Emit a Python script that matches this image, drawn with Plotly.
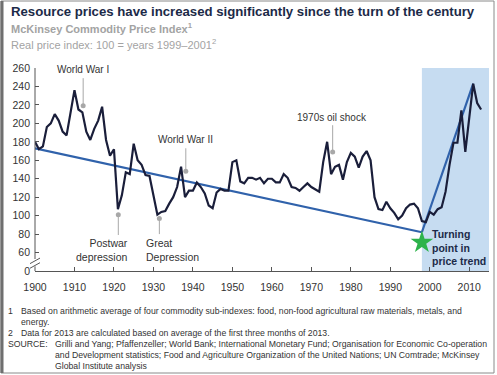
import plotly.graph_objects as go

years = list(range(1900, 2014))
index_values = [
    180, 172, 175, 196, 200, 210, 203, 191, 187, 212,
    236, 215, 212, 191, 182, 194, 203, 218, 182, 165,
    172, 107, 122, 147, 145, 178, 160, 155, 144, 143,
    122, 101, 104, 105, 113, 120, 131, 153, 120, 127,
    127, 136, 131, 124, 111, 108, 125, 129, 127, 127,
    158, 160, 137, 135, 141, 141, 139, 141, 135, 140,
    140, 136, 136, 145, 141, 131, 130, 127, 131, 135,
    131, 128, 126, 158, 180, 145, 153, 155, 139, 158,
    168, 164, 152, 164, 170, 160, 120, 107, 106, 115,
    108, 103, 96, 100, 108, 112, 113, 108, 94, 93,
    104, 101, 107, 109, 126, 155, 179, 179, 214, 169,
    207, 243, 222, 215,
]
trend_down_x = [1900, 1998]
trend_down_y = [173, 82]
trend_up_x = [1998, 2011]
trend_up_y = [82, 243]
star_x = [1998]
star_y = [71]
tick_years = list(range(1900, 2011, 10))
y_tickvals = [40, 60, 80, 100, 120, 140, 160, 180, 200, 220, 240, 260]
y_ticktext = ["0", "60", "80", "100", "120", "140", "160", "180", "200", "220", "240", "260"]

FONT = "Liberation Sans, Arial, sans-serif"
NAVY = "#1c2a48"
TXT = "#333333"

# plot area in pixels
L, R, T, B = 35, 8, 68, 104
W, H = 497, 375
PW, PH = W - L - R, H - T - B

def px(x):
    return (x - L) / PW

def py(y):
    return (H - B - y) / PH

fig = go.Figure()

fig.add_trace(go.Scatter(x=trend_down_x, y=trend_down_y, mode="lines",
                         line=dict(color="#3062ab", width=2.2), hoverinfo="skip"))
fig.add_trace(go.Scatter(x=trend_up_x, y=trend_up_y, mode="lines",
                         line=dict(color="#3062ab", width=2.2), hoverinfo="skip"))
fig.add_trace(go.Scatter(x=years, y=index_values, mode="lines",
                         line=dict(color="#1a1e3a", width=2.2)))
fig.add_trace(go.Scatter(x=star_x, y=star_y, mode="markers",
                         marker=dict(symbol="star", size=17, color="#2db34b", line=dict(width=0))))

shapes = []
# shaded region
shapes.append(dict(type="rect", xref="x", yref="y", x0=1998, x1=2015, y0=40, y1=260,
                   fillcolor="#c6dcf1", line=dict(width=0), layer="below"))
# y axis line with break
shapes.append(dict(type="line", xref="paper", yref="y", x0=0, x1=0, y0=40, y1=45,
                   line=dict(color="#555555", width=1)))
shapes.append(dict(type="line", xref="paper", yref="y", x0=0, x1=0, y0=53, y1=260,
                   line=dict(color="#555555", width=1)))
shapes.append(dict(type="line", xref="paper", yref="y", x0=px(30), x1=px(40), y0=43, y1=49,
                   line=dict(color="#555555", width=1)))
shapes.append(dict(type="line", xref="paper", yref="y", x0=px(30), x1=px(40), y0=48, y1=54,
                   line=dict(color="#555555", width=1)))

# annotation leader lines and dots
leaders = [
    (1912.2, 219, 249),
    (1938.2, 148, 173),
    (1975.4, 169, 198),
    (1921.1, 101, 79),
    (1931.5, 97, 80),
]
for lx, ly0, ly1 in leaders:
    shapes.append(dict(type="line", xref="x", yref="y", x0=lx, x1=lx, y0=ly0, y1=ly1,
                       line=dict(color="#a8a8a8", width=1)))
fig.add_trace(go.Scatter(x=[l[0] for l in leaders], y=[l[1] for l in leaders], mode="markers",
                         marker=dict(color="#a8a8a8", size=5), hoverinfo="skip"))

# frame
shapes.append(dict(type="rect", xref="paper", yref="paper", x0=px(1), x1=px(494), y0=py(373), y1=py(1),
                   line=dict(color="#8a8a8a", width=1)))
shapes.append(dict(type="line", xref="paper", yref="paper", x0=px(2), x1=px(2), y0=py(373), y1=py(1),
                   line=dict(color="#6f6f6f", width=3)))

annotations = []
def ann(text, x, y, size, color=TXT, xanchor="center", bold=False, align="left", xref="x", yref="y"):
    if bold:
        text = "<b>" + text + "</b>"
    annotations.append(dict(text=text, x=x, y=y, xref=xref, yref=yref, showarrow=False,
                            xanchor=xanchor, yanchor="middle", align=align,
                            font=dict(family=FONT, size=size, color=color)))

ann("World War I", 1912.2, 258, 10)
ann("World War II", 1938.0, 182, 10)
ann("1970s oil shock", 1975.2, 206, 10)
ann("Postwar<br>depression", 1924.05, 63, 10.5, xanchor="right", align="right")
ann("Great<br>Depression", 1927.6, 63, 10.5, xanchor="left", align="left")
ann("Turning<br>point in<br>price trend", 2000.1, 65, 10.5, color=NAVY, xanchor="left", bold=True)

# titles
ann("Resource prices have increased significantly since the turn of the century", px(9), py(12), 13.2,
    color=NAVY, xanchor="left", bold=True, xref="paper", yref="paper")
ann("McKinsey Commodity Price Index<sup>1</sup>", px(9), py(28), 11, color="#a3a3a3",
    xanchor="left", bold=True, xref="paper", yref="paper")
ann("Real price index: 100 = years 1999\u20132001<sup>2</sup>", px(9), py(44), 11, color="#a3a3a3",
    xanchor="left", xref="paper", yref="paper")

# footnotes
FN = 8.7
foot = [
    (6, 311, "1"),
    (19, 311, "Based on arithmetic average of four commodity sub-indexes: food, non-food agricultural raw materials, metals, and"),
    (19, 322, "energy."),
    (6, 333, "2"),
    (19, 333, "Data for 2013 are calculated based on average of the first three months of 2013."),
    (6, 344, "SOURCE:"),
    (53, 344, "Grilli and Yang; Pfaffenzeller; World Bank; International Monetary Fund; Organisation for Economic Co-operation"),
    (53, 355, "and Development statistics; Food and Agriculture Organization of the United Nations; UN Comtrade; McKinsey"),
    (53, 366, "Global Institute analysis"),
]
for fx, fy, ft in foot:
    ann(ft, px(fx), py(fy), FN, color=TXT, xanchor="left", xref="paper", yref="paper")

fig.update_layout(
    width=W, height=H,
    margin=dict(l=L, r=R, t=T, b=B),
    paper_bgcolor="white", plot_bgcolor="white",
    showlegend=False,
    shapes=shapes, annotations=annotations,
    font=dict(family=FONT, color=TXT),
    xaxis=dict(range=[1900, 2015], tickvals=tick_years, ticks="inside", ticklen=4,
               tickcolor="#555555", showline=True, linecolor="#555555", linewidth=1,
               showgrid=False, zeroline=False, tickfont=dict(size=10.5, color=TXT),
               ticklabelstandoff=6),
    yaxis=dict(range=[40, 260], tickvals=y_tickvals, ticktext=y_ticktext, ticks="inside",
               ticklen=4, tickcolor="#555555", showline=False, showgrid=False, zeroline=False,
               tickfont=dict(size=10.5, color=TXT), ticklabelstandoff=4),
)

fig.write_html("out.html", config={"displayModeBar": False},
               post_script="document.body.style.margin='0';document.body.style.padding='0';")
